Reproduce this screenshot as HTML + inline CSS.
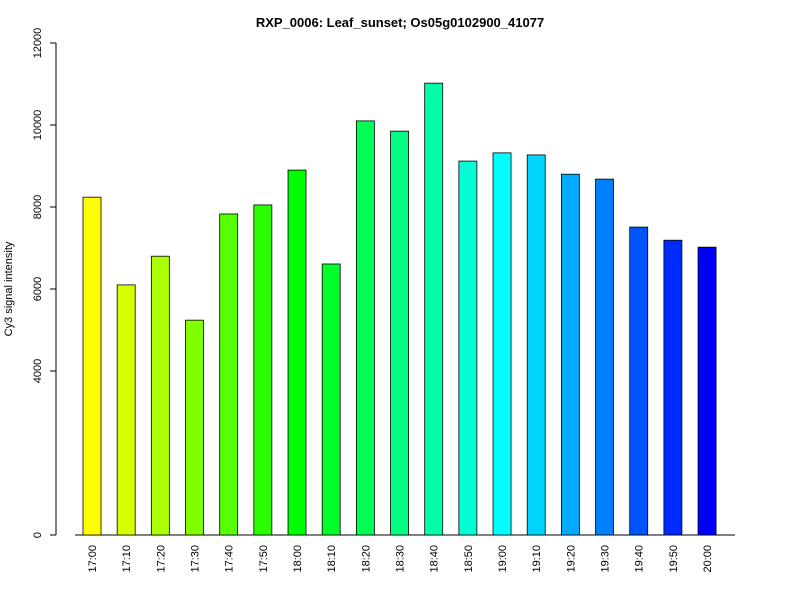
<!DOCTYPE html>
<html><head><meta charset="utf-8"><style>body{margin:0;background:#fff}svg{display:block}text{font-family:"Liberation Sans",Arial,sans-serif}</style></head>
<body>
<svg width="800" height="600">
<text x="400" y="27" text-anchor="middle" font-size="13" font-weight="bold">RXP_0006: Leaf_sunset; Os05g0102900_41077</text>
<text transform="translate(12,289) rotate(-90)" text-anchor="middle" font-size="11">Cy3 signal intensity</text>
<g id="axes"></g><g id="bars"></g>
</svg>
<script>
const categories=["17:00","17:10","17:20","17:30","17:40","17:50","18:00","18:10","18:20","18:30","18:40","18:50","19:00","19:10","19:20","19:30","19:40","19:50","20:00"];
const values=[8240,6100,6800,5240,7830,8050,8900,6610,10100,9850,11020,9120,9320,9270,8800,8680,7510,7190,7020];
const yTicks=[0,4000,6000,8000,10000,12000];
const NS="http://www.w3.org/2000/svg";
const y=v=>535-v*492/12000;
const x=i=>92+i*34.17;
function mk(t,a,p){const e=document.createElementNS(NS,t);for(const k in a)e.setAttribute(k,a[k]);p.appendChild(e);return e;}
const ax=document.getElementById('axes'),bg=document.getElementById('bars');
const yl=mk('line',{x1:56,x2:56,y1:y(0),y2:y(12000),stroke:'#000'},ax);


yTicks.forEach(t=>{
 const l=mk('line',{x1:50,x2:56,y1:y(t),y2:y(t),stroke:'#000'},ax);
 
 
 const tx=mk('text',{transform:`translate(41,${y(t)}) rotate(-90)`,'text-anchor':'middle','font-size':11},ax);
 tx.textContent=t;
 
 
});
const xl=mk('line',{x1:75,x2:735,y1:535,y2:535,stroke:'#000'},ax);


categories.forEach((c,i)=>{
 const r=mk('rect',{x:x(i)-9,y:y(values[i]),width:18,height:y(0)-y(values[i]),fill:`hsl(${60+i*180/(categories.length-1)},100%,50%)`,stroke:'#000','stroke-width':0.8},bg);
 
 
 const tx=mk('text',{transform:`translate(${x(i)+4},545) rotate(-90)`,'text-anchor':'end','font-size':11},ax);
 tx.textContent=c;
 
 
});
</script>
</body></html>
